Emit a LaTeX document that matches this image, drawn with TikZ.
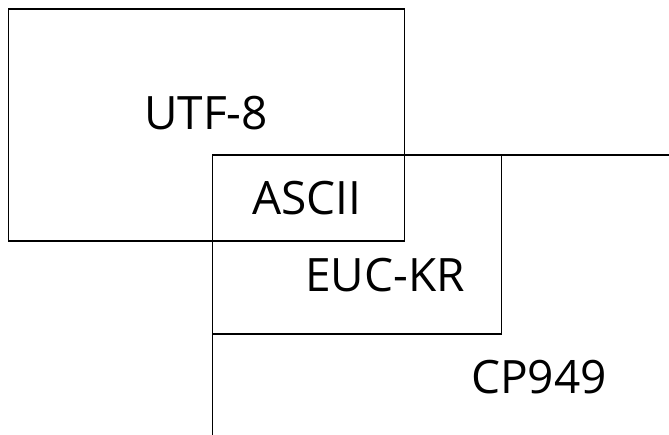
\documentclass[tikz,border=0pt]{standalone}
\usepackage{fontspec}
\setmainfont{Open Sans}
\begin{document}
\begin{tikzpicture}[x=1pt,y=-1pt,
  setbox/.style={draw=black,line width=1.2pt,inner sep=0pt,anchor=north west},
  setlabel/.style={font=\fontsize{46}{54}\selectfont,inner sep=0pt,anchor=base}]
  \useasboundingbox (0,0) rectangle (669,435);
  \clip (0,0) rectangle (669,435);
  % encoding sets
  \node[setbox,minimum width=396pt,minimum height=232pt] (utf) at (8,8.5) {};
  \node[setbox,minimum width=289pt,minimum height=179pt] (euc) at (212,154.5) {};
  \node[setbox,minimum width=520pt,minimum height=320pt] (cp) at (212,154.5) {};
  % labels
  \node[setlabel] (lutf) at (206,130) {UTF-8};
  \node[setlabel] (lascii) at (307,215) {ASCII};
  \node[setlabel] (leuc) at (385,292) {EUC-KR};
  \node[setlabel] (lcp) at (539,393) {CP949};
\end{tikzpicture}
\end{document}
